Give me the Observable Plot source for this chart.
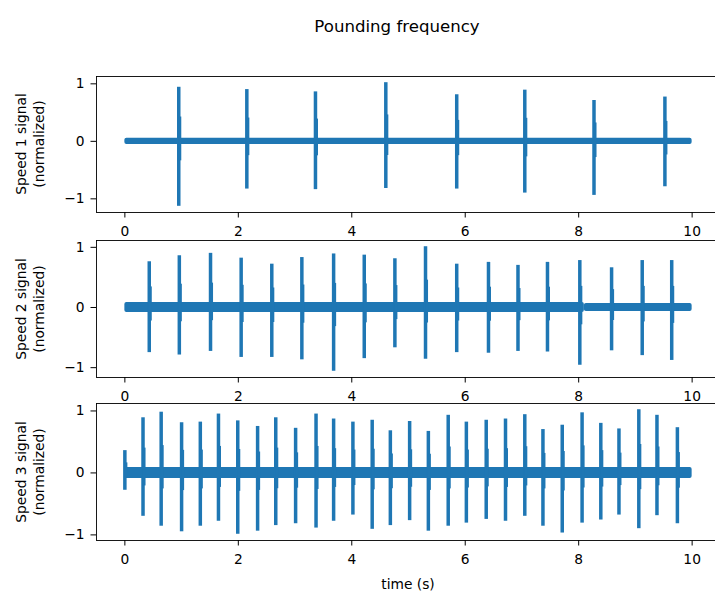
<!DOCTYPE html>
<html><head><meta charset="utf-8">
<script src="https://cdn.jsdelivr.net/npm/d3@7"></script>
<script src="https://cdn.jsdelivr.net/npm/@observablehq/plot@0.6"></script>
<style>
body{margin:0;background:#fff}
#wrap{position:relative;width:715px;height:593px;overflow:hidden;background:#fff;font-family:"DejaVu Sans",sans-serif;color:#000}
.p{position:absolute;left:0}
.yl{position:absolute;left:30px;transform:translate(-50%,-50%) rotate(-90deg);white-space:nowrap;text-align:center;font-size:13.8px;line-height:18px}
#title{position:absolute;left:397px;top:26px;transform:translate(-50%,-50%);font-size:16.6px;white-space:nowrap}
#xl{position:absolute;left:408px;top:584px;transform:translate(-50%,-50%);font-size:13.8px;white-space:nowrap}
</style></head>
<body><div id="wrap"><div id="title">Pounding frequency</div><div id="xl">time (s)</div></div>
<script>
// Speed 1
const t1   = [0.95, 2.15, 3.36, 4.60, 5.85, 7.05, 8.27, 9.52];
const pos1 = [0.94, 0.90, 0.86, 1.02, 0.81, 0.89, 0.71, 0.77];
const neg1 = [-1.13, -0.83, -0.84, -0.82, -0.83, -0.90, -0.94, -0.79];
const noiseStart1 = [0], noiseEnd1 = [10], noiseAmp1 = [0.055];
// Speed 2
const t2   = [0.43, 0.96, 1.51, 2.05, 2.59, 3.12, 3.68, 4.22, 4.76, 5.30, 5.85, 6.41, 6.93, 7.45, 8.02, 8.58, 9.12, 9.64];
const pos2 = [0.76, 0.86, 0.90, 0.82, 0.72, 0.83, 0.89, 0.87, 0.81, 1.01, 0.72, 0.75, 0.70, 0.75, 0.78, 0.66, 0.78, 0.78];
const neg2 = [-0.75, -0.79, -0.73, -0.83, -0.83, -0.87, -1.06, -0.85, -0.67, -0.86, -0.75, -0.76, -0.73, -0.74, -0.96, -0.72, -0.80, -0.88];
const noiseStart2 = [0, 8.1], noiseEnd2 = [8.1, 10], noiseAmp2 = [0.085, 0.065];
// Speed 3
const t3   = [0.00, 0.32, 0.64, 1.00, 1.33, 1.65, 1.99, 2.34, 2.66, 3.01, 3.37, 3.68, 4.02, 4.36, 4.68, 5.02, 5.35, 5.70, 6.02, 6.37, 6.71, 7.05, 7.37, 7.71, 8.06, 8.39, 8.71, 9.06, 9.38, 9.74];
const pos3 = [0.36, 0.89, 0.98, 0.81, 0.82, 0.95, 0.84, 0.75, 0.89, 0.72, 0.95, 0.87, 0.82, 0.85, 0.68, 0.83, 0.67, 0.93, 0.82, 0.85, 0.87, 0.94, 0.70, 0.77, 0.97, 0.80, 0.71, 1.02, 0.93, 0.73];
const neg3 = [-0.28, -0.70, -0.86, -0.95, -0.86, -0.78, -0.99, -0.94, -0.85, -0.82, -0.89, -0.78, -0.68, -0.91, -0.85, -0.77, -0.94, -0.86, -0.81, -0.75, -0.78, -0.70, -0.86, -0.97, -0.81, -0.76, -0.68, -0.90, -0.69, -0.82];
const noiseStart3 = [0], noiseEnd3 = [10], noiseAmp3 = [0.088];

const xTicks = [0, 2, 4, 6, 8, 10];
const yTicks = [-1, 0, 1];
const C = "#1f77b4";

function panel(t, pos, neg, ns, ne, na, top, h) {
  const spikes = t.map((d, i) => ({t: d, pos: pos[i], neg: neg[i]}));
  const noise = ns.map((d, i) => ({x1: d, x2: ne[i], a: na[i]}));
  const lo = d3.min(neg), hi = d3.max(pos), m = (hi - lo) * 0.05;
  const svg = Plot.plot({
    width: 715, height: h + 40, marginTop: 10, marginBottom: 30, marginLeft: 96, marginRight: -5,
    style: {fontFamily: "DejaVu Sans", fontSize: "13.8px", color: "#000", background: "transparent", overflow: "visible"},
    x: {domain: [-0.5, 10.5]},
    y: {domain: [lo - m, hi + m]},
    marks: [
      Plot.rect(noise, {x1: "x1", x2: "x2", y1: d => -d.a, y2: d => d.a, fill: C, rx: 2}),
      Plot.ruleX(spikes, {x: "t", y1: "neg", y2: "pos", stroke: C, strokeWidth: 3.5}),
      Plot.ruleX(spikes, {x: d => d.t + 0.018, y1: d => d.neg * 0.3, y2: d => d.pos * 0.45, stroke: C, strokeWidth: 3}),
      Plot.frame({stroke: "#000", strokeWidth: 0.9}),
      Plot.axisX(xTicks, {tickSize: 5.5, tickPadding: 8.5, label: null, fontSize: 13.8, stroke: "#000"}),
      Plot.axisY(yTicks, {tickSize: 5.5, tickPadding: 6.5, label: null, fontSize: 13.8, stroke: "#000", tickFormat: d => d < 0 ? "\u2212" + Math.abs(d) : String(d)})
    ]
  });
  svg.classList.add("p");
  svg.style.top = (top - 10) + "px";
  document.getElementById("wrap").appendChild(svg);
}
panel(t1, pos1, neg1, noiseStart1, noiseEnd1, noiseAmp1, 76, 136);
panel(t2, pos2, neg2, noiseStart2, noiseEnd2, noiseAmp2, 240, 137);
panel(t3, pos3, neg3, noiseStart3, noiseEnd3, noiseAmp3, 403, 137);

const labels = [["Speed 1 signal", 144], ["Speed 2 signal", 308.5], ["Speed 3 signal", 471.5]];
for (const [s, cy] of labels) {
  const d = document.createElement("div");
  d.className = "yl";
  d.style.top = cy + "px";
  d.innerHTML = s + "<br>(normalized)";
  document.getElementById("wrap").appendChild(d);
}
</script></body></html>
